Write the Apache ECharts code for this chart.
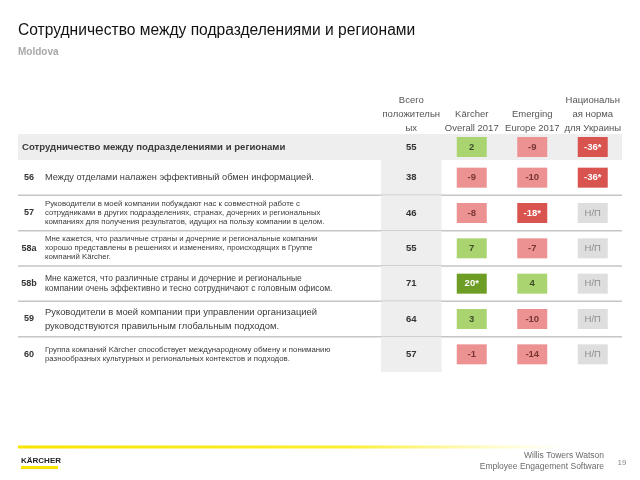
<!DOCTYPE html>
<html><head><meta charset="utf-8">
<script src="https://cdn.jsdelivr.net/npm/echarts/dist/echarts.min.js"></script>
<style>html,body{margin:0;padding:0;background:#fff}#c{width:640px;height:480px}</style>
</head><body><div id="c"></div>
<script>
// ---------- data ----------
const titleText = 'Сотрудничество между подразделениями и регионами';
const subtitleText = 'Moldova';
const rowIds = ['', '56', '57', '58a', '58b', '59', '60'];
const rowTexts = [
  'Сотрудничество между подразделениями и регионами',
  'Между отделами налажен эффективный обмен информацией.',
  'Руководители в моей компании побуждают нас к совместной работе с\nсотрудниками в других подразделениях, странах, дочерних и региональных\nкомпаниях для получения результатов, идущих на пользу компании в целом.',
  'Мне кажется, что различные страны и дочерние и региональные компании\nхорошо представлены в решениях и изменениях, происходящих в Группе\nкомпаний Kärcher.',
  'Мне кажется, что различные страны и дочерние и региональные\nкомпании очень эффективно и тесно сотрудничают с головным офисом.',
  'Руководители в моей компании при управлении организацией\nруководствуются правильным глобальным подходом.',
  'Группа компаний Kärcher способствует международному обмену и пониманию\nразнообразных культурных и региональных контекстов и подходов.'
];
const columnHeaders = ['Всего\nположительн\nых', 'Kärcher\nOverall 2017', 'Emerging\nEurope 2017', 'Национальн\nая норма\nдля Украины'];
const totalPositive = [55, 38, 46, 55, 71, 64, 57];
const karcherOverall2017 = ['2', '-9', '-8', '7', '20*', '3', '-1'];
const emergingEurope2017 = ['-9', '-10', '-18*', '-7', '4', '-10', '-14'];
const nationalNormUkraine = ['-36*', '-36*', 'Н/П', 'Н/П', 'Н/П', 'Н/П', 'Н/П'];
const footerRight = 'Willis Towers Watson\nEmployee Engagement Software';
const pageNumber = '19';
const logoText = 'KÄRCHER';

// ---------- styles ----------
const FONT = 'Liberation Sans, Arial, sans-serif';
const TABLE_LEFT = 18, TABLE_RIGHT = 622;
const rowTextStyles = [
  {size: 9.6, lh: 11, weight: 'bold'},
  {size: 9.2, lh: 11, weight: 'normal'},
  {size: 7.8, lh: 9, weight: 'normal'},
  {size: 7.8, lh: 9, weight: 'normal'},
  {size: 8.5, lh: 9.5, weight: 'normal'},
  {size: 9.4, lh: 14, weight: 'normal'},
  {size: 7.8, lh: 9.5, weight: 'normal'}
];

function cellStyle(v) {
  if (v === 'Н/П') return {fill: '#dedede', text: '#8e8e8e', weight: 'normal'};
  const sig = v.indexOf('*') >= 0;
  const n = parseFloat(v);
  if (n >= 0) return sig ? {fill: '#6d9d24', text: '#ffffff', weight: 'bold'} : {fill: '#a9d46f', text: '#3e4c28', weight: 'bold'};
  return sig ? {fill: '#d9534f', text: '#ffffff', weight: 'bold'} : {fill: '#ec9292', text: '#7a3636', weight: 'bold'};
}

const cols = [totalPositive, karcherOverall2017, emergingEurope2017, nationalNormUkraine];

function buildCells(rowsGlobal) {
  const out = [];
  rowsGlobal.forEach((g, local) => {
    cols.forEach((arr, c) => out.push([c, local, String(arr[g]), g]));
  });
  return out;
}
function buildRows(rowsGlobal) {
  return rowsGlobal.map((g, local) => [0, local, g]);
}

function renderRow(params, api) {
  const g = api.value(2);
  const c = api.coord([0, api.value(1)]);
  const h = api.size([0, 1])[1];
  const colW = api.size([1, 0])[0];
  const top = c[1] - h / 2, bottom = c[1] + h / 2;
  const children = [];
  if (g === 0) {
    children.push({type: 'rect', shape: {x: TABLE_LEFT, y: top, width: TABLE_RIGHT - TABLE_LEFT, height: h}, style: {fill: '#eeeeee'}});
  }
  children.push({type: 'rect', shape: {x: c[0] - colW / 2, y: top, width: colW, height: h}, style: {fill: '#eeeeee'}});
  if (g > 0 && g < rowIds.length - 1) {
    children.push({type: 'line', shape: {x1: TABLE_LEFT, y1: bottom, x2: TABLE_RIGHT, y2: bottom}, style: {stroke: '#c6c6c6', lineWidth: 1.5}});
  }
  if (rowIds[g]) {
    children.push({type: 'text', style: {x: 29, y: c[1], text: rowIds[g], align: 'center', verticalAlign: 'middle', fontFamily: FONT, fontSize: 9, fontWeight: 'bold', fill: '#333333'}});
  }
  const ts = rowTextStyles[g];
  children.push({type: 'text', style: {x: g === 0 ? 22 : 45, y: c[1], text: rowTexts[g], align: 'left', verticalAlign: 'middle', fontFamily: FONT, fontSize: ts.size, lineHeight: ts.lh, fontWeight: ts.weight, fill: '#3a3a3a'}});
  return {type: 'group', children};
}

function renderCell(params, api) {
  const col = api.value(0);
  const c = api.coord([col, api.value(1)]);
  const s = String(cols[col][api.value(3)]);
  if (col === 0) {
    return {type: 'text', style: {x: c[0], y: c[1], text: s, align: 'center', verticalAlign: 'middle', fontFamily: FONT, fontSize: 9.5, fontWeight: 'bold', fill: '#333333'}};
  }
  const st = cellStyle(s);
  const w = 30, h = 20;
  return {type: 'group', children: [
    {type: 'rect', shape: {x: c[0] - w / 2, y: c[1] - h / 2, width: w, height: h}, style: {fill: st.fill}},
    {type: 'text', style: {x: c[0], y: c[1], text: s, align: 'center', verticalAlign: 'middle', fontFamily: FONT, fontSize: 9.5, fontWeight: st.weight, fill: st.text}}
  ]};
}

const gridLeft = 381, gridWidth = 242;
const summaryRows = [0];
const questionRows = [1, 2, 3, 4, 5, 6];

const headerGraphics = columnHeaders.map((t, i) => ({
  type: 'text',
  x: gridLeft + gridWidth / 4 * (i + 0.5), y: 135,
  style: {text: t, align: 'center', verticalAlign: 'bottom', fontFamily: FONT, fontSize: 9.5, lineHeight: 14, fill: '#555555'}
}));

const chart = echarts.init(document.getElementById('c'), null, {renderer: 'canvas'});
chart.setOption({
  animation: false,
  backgroundColor: '#ffffff',
  grid: [
    {left: gridLeft, width: gridWidth, top: 134, height: 26},
    {left: gridLeft, width: gridWidth, top: 160, height: 212}
  ],
  xAxis: [
    {type: 'category', gridIndex: 0, data: [0, 1, 2, 3], show: false},
    {type: 'category', gridIndex: 1, data: [0, 1, 2, 3], show: false}
  ],
  yAxis: [
    {type: 'category', gridIndex: 0, data: summaryRows.map((r, i) => i), inverse: true, show: false},
    {type: 'category', gridIndex: 1, data: questionRows.map((r, i) => i), inverse: true, show: false}
  ],
  series: [
    {type: 'custom', xAxisIndex: 0, yAxisIndex: 0, z: 1, renderItem: renderRow, data: buildRows(summaryRows), encode: {x: 0, y: 1}, silent: true},
    {type: 'custom', xAxisIndex: 1, yAxisIndex: 1, z: 1, renderItem: renderRow, data: buildRows(questionRows), encode: {x: 0, y: 1}, silent: true},
    {type: 'custom', xAxisIndex: 0, yAxisIndex: 0, z: 3, renderItem: renderCell, data: buildCells(summaryRows), encode: {x: 0, y: 1}, silent: true},
    {type: 'custom', xAxisIndex: 1, yAxisIndex: 1, z: 3, renderItem: renderCell, data: buildCells(questionRows), encode: {x: 0, y: 1}, silent: true}
  ],
  graphic: [
    {type: 'text', x: 18, y: 31, style: {text: titleText, verticalAlign: 'middle', fontFamily: FONT, fontSize: 15.6, fill: '#111111'}},
    {type: 'text', x: 18, y: 52, style: {text: subtitleText, verticalAlign: 'middle', fontFamily: FONT, fontSize: 10, fontWeight: 'bold', fill: '#a8a8a8'}},
    ...headerGraphics,
    {type: 'rect', shape: {x: 18, y: 445.5, width: 550, height: 3}, style: {fill: new echarts.graphic.LinearGradient(0, 0, 1, 0, [
      {offset: 0, color: '#f7e400'}, {offset: 0.6, color: '#fbee30'}, {offset: 1, color: 'rgba(255,245,120,0)'}])}},
    {type: 'text', x: 21, y: 461, style: {text: logoText, verticalAlign: 'middle', fontFamily: FONT, fontSize: 8, fontWeight: 'bold', fill: '#222222'}},
    {type: 'rect', shape: {x: 21, y: 466, width: 37, height: 3}, style: {fill: '#f7e400'}},
    {type: 'text', x: 604, y: 461.5, style: {text: footerRight, align: 'right', verticalAlign: 'middle', fontFamily: FONT, fontSize: 8.5, lineHeight: 11, fill: '#6a6a6a'}},
    {type: 'text', x: 622, y: 463, style: {text: pageNumber, align: 'center', verticalAlign: 'middle', fontFamily: FONT, fontSize: 8, fill: '#888888'}}
  ]
});
</script></body></html>
